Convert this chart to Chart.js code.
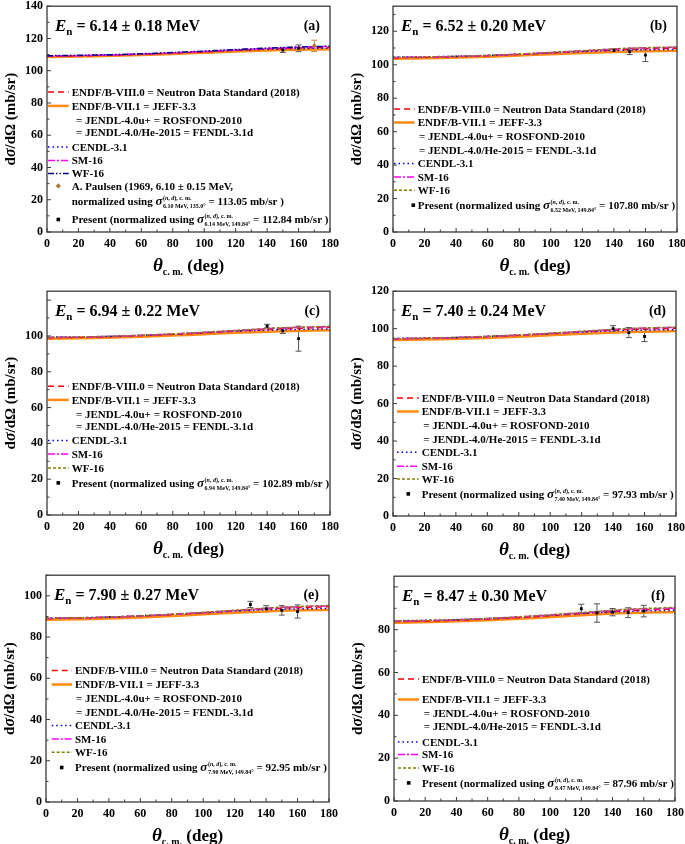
<!DOCTYPE html>
<html>
<head>
<meta charset="utf-8">
<script src="https://cdn.jsdelivr.net/npm/chart.js@4.4.0/dist/chart.umd.min.js"></script>
<style>
  body { margin: 0; background: #fff; width: 685px; height: 844px; position: relative; overflow: hidden; }
  canvas { position: absolute; }
</style>
</head>
<body>
<script>
// model curves are given at these angles (deg, c.m.)
const angles = [0, 30, 60, 90, 120, 150, 180];

// (a) 6.14 MeV
const endf80A = [109.0, 109.4, 110.2, 111.3, 112.6, 113.8, 114.5];
const endf71A = [108.5, 108.9, 109.7, 110.8, 111.9, 112.8, 113.3];
const cendlA  = [109.2, 109.6, 110.4, 111.5, 112.7, 113.6, 114.0];
const sm16A   = [109.1, 109.5, 110.3, 111.5, 112.9, 114.2, 115.0];
const wf16A   = [109.3, 109.7, 110.5, 111.7, 113.1, 114.4, 115.2];
const presAngA = [150, 160];
const presA    = [112.84, 113.9];
const presErrA = [1.5, 2.1];
const paulsenAng = [170];
const paulsen    = [115.4];
const paulsenErr = [3.5];

// (b) 6.52 MeV
const endf80B = [104.2, 104.6, 105.4, 106.6, 108.0, 109.2, 109.9];
const endf71B = [103.6, 104.0, 104.8, 105.9, 107.0, 107.9, 108.4];
const cendlB  = [104.6, 104.9, 105.6, 106.7, 107.9, 108.8, 109.2];
const sm16B   = [104.3, 104.7, 105.5, 106.8, 108.3, 109.8, 110.5];
const wf16B   = [104.4, 104.8, 105.6, 106.9, 108.4, 109.9, 110.6];
const presAngB = [140, 150, 160];
const presB    = [108.5, 107.80, 105.8];
const presErrB = [1.0, 1.7, 3.9];

// (c) 6.94 MeV
const endf80C = [99.0, 99.4, 100.2, 101.3, 102.7, 104.0, 104.8];
const endf71C = [98.4, 98.8, 99.5, 100.6, 101.8, 102.7, 103.2];
const cendlC  = [99.3, 99.6, 100.4, 101.5, 102.7, 103.5, 103.9];
const sm16C   = [99.1, 99.5, 100.3, 101.5, 103.0, 104.5, 105.2];
const wf16C   = [99.2, 99.6, 100.4, 101.6, 103.1, 104.6, 105.4];
const presAngC = [140, 150, 160];
const presC    = [105.5, 102.89, 98.5];
const presErrC = [1.0, 1.5, 7.0];

// (d) 7.40 MeV
const endf80D = [94.6, 95.0, 95.8, 96.9, 98.3, 99.5, 100.2];
const endf71D = [93.9, 94.3, 95.0, 96.1, 97.3, 98.2, 98.7];
const cendlD  = [94.8, 95.1, 95.9, 97.0, 98.2, 99.1, 99.5];
const sm16D   = [94.6, 95.0, 95.8, 97.0, 98.5, 100.0, 100.7];
const wf16D   = [94.7, 95.1, 95.9, 97.1, 98.6, 100.1, 100.8];
const presAngD = [140, 150, 160];
const presD    = [100.0, 97.93, 95.8];
const presErrD = [1.6, 2.7, 2.7];

// (e) 7.90 MeV
const endf80E = [89.0, 89.4, 90.2, 91.3, 92.7, 94.0, 94.7];
const endf71E = [88.4, 88.8, 89.5, 90.6, 91.8, 92.8, 93.3];
const cendlE  = [89.2, 89.5, 90.3, 91.4, 92.6, 93.5, 93.9];
const sm16E   = [89.0, 89.4, 90.2, 91.4, 92.9, 94.4, 95.1];
const wf16E   = [89.1, 89.5, 90.3, 91.5, 93.0, 94.5, 95.3];
const presAngE = [130, 140, 150, 160];
const presE    = [95.8, 93.7, 92.95, 92.4];
const presErrE = [1.5, 1.5, 2.3, 3.2];

// (f) 8.47 MeV
const endf80F = [83.8, 84.2, 85.0, 86.1, 87.5, 88.9, 89.7];
const endf71F = [83.3, 83.7, 84.4, 85.5, 86.8, 87.8, 88.3];
const cendlF  = [84.2, 84.5, 85.2, 86.3, 87.6, 88.6, 89.1];
const sm16F   = [84.0, 84.4, 85.2, 86.4, 87.9, 89.4, 90.1];
const wf16F   = [84.1, 84.5, 85.3, 86.5, 88.0, 89.6, 90.4];
const presAngF = [120, 130, 140, 150, 160];
const presF    = [89.8, 87.8, 88.2, 87.96, 88.7];
const presErrF = [2.1, 4.3, 1.7, 2.3, 2.7];

const xTicks = [0, 20, 40, 60, 80, 100, 120, 140, 160, 180];

const styles = {
    endf80: { borderColor: '#ff0000', borderWidth: 1.5, borderDash: [6, 4] },
    endf71: { borderColor: '#ff8a10', borderWidth: 2.5, borderDash: [] },
    cendl:  { borderColor: '#0000ff', borderWidth: 1.5, borderDash: [1.5, 3] },
    sm16:   { borderColor: '#ff00ff', borderWidth: 1.5, borderDash: [7, 2, 2, 2] },
    wfNavy: { borderColor: '#000080', borderWidth: 1.5, borderDash: [6, 2, 1.5, 2, 1.5, 2] },
    wfOlive:{ borderColor: '#808000', borderWidth: 1.5, borderDash: [3, 2] }
};

const panels = [
    { tag: '(a)', energy: '6.14 ± 0.18', yMax: 140, box: [47, 330, 5, 232], wf: 'wfNavy',
      curves: [endf80A, endf71A, cendlA, sm16A, wf16A], pres: [presAngA, presA, presErrA],
      norm: ['6.14 MeV, 149.84°', '112.84'], paulsen: true,
      leg: { text: 24.7, indent: 29, sym: 11.3, from: 1, rows: [85.7, 99.7, 114, 126.3, 140.7, 154.3, 167.3, 179.7, 195, 213.3] } },
    { tag: '(b)', energy: '6.52 ± 0.20', yMax: 135, box: [393, 677, 5, 232], wf: 'wfOlive',
      curves: [endf80B, endf71B, cendlB, sm16B, wf16B], pres: [presAngB, presB, presErrB],
      norm: ['6.52 MeV, 149.84°', '107.80'],
      leg: { text: 24.7, indent: 26, sym: 20.3, from: 1, rows: [102.7, 116.3, 130.3, 143.7, 157.3, 170.7, 184, 199] } },
    { tag: '(c)', energy: '6.94 ± 0.22', yMax: 125, box: [47, 330, 290, 515], wf: 'wfOlive',
      curves: [endf80C, endf71C, cendlC, sm16C, wf16C], pres: [presAngC, presC, presErrC],
      norm: ['6.94 MeV, 149.84°', '102.89'],
      leg: { text: 24.7, indent: 29, sym: 11.3, from: 1, rows: [95, 108.7, 122.7, 135.3, 149.3, 162.7, 176.7, 191.7] } },
    { tag: '(d)', energy: '7.40 ± 0.24', yMax: 120, box: [393, 676, 290, 516], wf: 'wfOlive',
      curves: [endf80D, endf71D, cendlD, sm16D, wf16D], pres: [presAngD, presD, presErrD],
      norm: ['7.40 MeV, 149.84°', '97.93'],
      leg: { text: 28.7, indent: 30.3, sym: 15.3, from: 4, rows: [106.7, 120.3, 134.3, 147.7, 161, 175, 187.7, 202.7] } },
    { tag: '(e)', energy: '7.90 ± 0.27', yMax: 110, box: [46, 329, 574, 802], wf: 'wfOlive',
      curves: [endf80E, endf71E, cendlE, sm16E, wf16E], pres: [presAngE, presE, presErrE],
      norm: ['7.90 MeV, 149.84°', '92.95'],
      leg: { text: 29, indent: 30, sym: 15.7, from: 5.7, rows: [95.3, 109.3, 122.7, 136.7, 150.3, 163.7, 177, 192.3] } },
    { tag: '(f)', energy: '8.47 ± 0.30', yMax: 105, box: [394, 675, 575, 801], wf: 'wfOlive',
      curves: [endf80F, endf71F, cendlF, sm16F, wf16F], pres: [presAngF, presF, presErrF],
      norm: ['8.47 MeV, 149.84°', '87.96'],
      leg: { text: 28, indent: 29.7, sym: 14.7, from: 4, rows: [102.7, 123.3, 136.7, 150, 165.7, 178.3, 191.7, 206.7] } }
];

const legendText = [
    ['ENDF/B-VIII.0 = Neutron Data Standard (2018)', 'endf80'],
    ['ENDF/B-VII.1 = JEFF-3.3', 'endf71'],
    ['= JENDL-4.0u+ = ROSFOND-2010', null],
    ['= JENDL-4.0/He-2015 = FENDL-3.1d', null],
    ['CENDL-3.1', 'cendl'],
    ['SM-16', 'sm16'],
    ['WF-16', 'wf']
];

const F = (size, italic) => (italic ? 'italic ' : '') + 'bold ' + size + 'px "Liberation Serif"';

function rich(ctx, x, y, parts) {
    for (const [t, font, dy] of parts) {
        ctx.font = font;
        ctx.fillText(t, x, y + (dy || 0));
        x += ctx.measureText(t).width;
    }
    return x;
}

// "... σ^(n, d), c. m._sub = value mb/sr )"
function sigmaRow(ctx, x, y, lead, sub, value) {
    x = rich(ctx, x, y, [[lead, F(11)], ['σ', F(13, true)]]) + 0.5;
    const e1 = rich(ctx, x, y - 5, [['(', F(6)], ['n', F(6, true)], [', ', F(6)], ['d', F(6, true)], ['), c. m.', F(6)]]);
    const e2 = rich(ctx, x, y + 3, [[sub, F(6)]]);
    rich(ctx, Math.max(e1, e2), y, [[' = ' + value + ' mb/sr )', F(11)]]);
}

function sample(ctx, x0, x1, y, st) {
    ctx.save();
    ctx.strokeStyle = st.borderColor;
    ctx.lineWidth = st.borderWidth;
    ctx.setLineDash(st.borderDash);
    ctx.beginPath();
    ctx.moveTo(x0, y);
    ctx.lineTo(x1, y);
    ctx.stroke();
    ctx.restore();
}

function drawSymbol(ctx, style, color, x, y) {
    ctx.save();
    ctx.fillStyle = color;
    ctx.beginPath();
    if (style === 'rect') ctx.rect(x - 1.8, y - 1.8, 3.6, 3.6);
    else { ctx.moveTo(x, y - 2.6); ctx.lineTo(x + 2.6, y); ctx.lineTo(x, y + 2.6); ctx.lineTo(x - 2.6, y); ctx.closePath(); }
    ctx.fill();
    ctx.restore();
}

const errorBars = {
    id: 'errorBars',
    beforeDatasetsDraw(chart) {
        const { ctx, scales: { x, y } } = chart;
        chart.data.datasets.forEach(ds => {
            if (!ds.errors) return;
            ctx.save();
            ctx.strokeStyle = ds.barColor;
            ctx.lineWidth = 1;
            ds.data.forEach((p, i) => {
                const px = x.getPixelForValue(p.x);
                const lo = y.getPixelForValue(p.y - ds.errors[i]);
                const hi = y.getPixelForValue(p.y + ds.errors[i]);
                ctx.beginPath();
                ctx.moveTo(px, lo); ctx.lineTo(px, hi);
                ctx.moveTo(px - 3, lo); ctx.lineTo(px + 3, lo);
                ctx.moveTo(px - 3, hi); ctx.lineTo(px + 3, hi);
                ctx.stroke();
            });
            ctx.restore();
        });
    }
};

function decor(p) {
    return {
        id: 'decor',
        afterDraw(chart) {
            const { ctx, chartArea: a, scales: { x, y } } = chart;
            ctx.save();
            // frame and inward ticks
            ctx.strokeStyle = '#3a3a3a';
            ctx.lineWidth = 1.3;
            ctx.strokeRect(a.left, a.top, a.right - a.left, a.bottom - a.top);
            ctx.lineWidth = 1;
            ctx.beginPath();
            for (let v = 0; v <= 180; v += 10) {
                const px = x.getPixelForValue(v), len = v % 20 === 0 ? 4 : 2.5;
                ctx.moveTo(px, a.bottom); ctx.lineTo(px, a.bottom - len);
            }
            for (let v = 0; v <= p.yMax; v += 10) {
                const py = y.getPixelForValue(v), len = v % 20 === 0 ? 4 : 2.5;
                ctx.moveTo(a.left, py); ctx.lineTo(a.left + len, py);
            }
            ctx.stroke();

            ctx.fillStyle = '#000';
            ctx.textBaseline = 'alphabetic';

            // x title
            ctx.font = F(19, true); const w1 = ctx.measureText('θ').width;
            ctx.font = F(10); const w2 = ctx.measureText('c. m.').width;
            ctx.font = F(17); const w3 = ctx.measureText(' (deg)').width;
            const cx = (a.left + a.right) / 2 - (w1 + w2 + w3) / 2;
            rich(ctx, cx, a.bottom + 39, [['θ', F(19, true)], ['c. m.', F(10), 4], [' (deg)', F(17)]]);

            // y title
            ctx.save();
            ctx.translate(a.left - 32, (a.top + a.bottom) / 2);
            ctx.rotate(-Math.PI / 2);
            const yParts = [['d', F(15)], ['σ', F(16, true)], ['/dΩ (mb/sr)', F(15)]];
            let wy = 0;
            yParts.forEach(([t, f]) => { ctx.font = f; wy += ctx.measureText(t).width; });
            rich(ctx, -wy / 2, 0, yParts);
            ctx.restore();

            // energy label and panel tag
            rich(ctx, a.left + 8, a.top + 25, [['E', F(17, true)], ['n', F(11), 4], [' = ' + p.energy + ' MeV', F(16)]]);
            ctx.font = F(14);
            ctx.textAlign = 'right';
            ctx.fillText(p.tag, a.right - 10, a.top + 24);
            ctx.textAlign = 'left';

            // legend
            const lg = p.leg, L = a.left, T = a.top;
            const tx = L + lg.text;
            legendText.forEach(([text, key], i) => {
                const yc = T + lg.rows[i];
                if (key) sample(ctx, L + lg.from, tx - 3, yc, styles[key === 'wf' ? p.wf : key]);
                ctx.font = F(11);
                ctx.fillText(text, key ? tx : L + lg.indent, yc + 3.8);
            });
            let r = legendText.length;
            if (p.paulsen) {
                const yc = T + lg.rows[r];
                drawSymbol(ctx, 'rectRot', '#b5752f', L + lg.sym, yc);
                ctx.font = F(11);
                ctx.fillText('A. Paulsen (1969, 6.10 ± 0.15 MeV,', tx, yc + 3.8);
                sigmaRow(ctx, tx, T + lg.rows[r + 1] + 3.8, 'normalized using ', '6.10 MeV, 135.0°', '113.05');
                r += 2;
            }
            const yc = T + lg.rows[r];
            drawSymbol(ctx, 'rect', '#000', L + lg.sym, yc);
            sigmaRow(ctx, tx, yc + 3.8, 'Present (normalized using ', p.norm[0], p.norm[1]);
            ctx.restore();
        }
    };
}

const tickFont = { family: 'Liberation Serif', size: 12, weight: 'bold' };

panels.forEach(p => {
    const [L, R, T, B] = p.box;
    const cv = document.createElement('canvas');
    cv.width = R - L + 62;
    cv.height = B - T + 62;
    cv.style.left = (L - 48) + 'px';
    cv.style.top = (T - 10) + 'px';
    document.body.appendChild(cv);

    const keys = ['endf80', 'endf71', 'cendl', 'sm16', p.wf];
    const lines = keys.map((k, i) => Object.assign({
        data: angles.map((a, j) => ({ x: a, y: p.curves[i][j] })),
        pointRadius: 0, fill: false, cubicInterpolationMode: 'monotone'
    }, styles[k]));
    // drawing order: first dataset ends on top
    const datasets = [{
        data: p.pres[0].map((a, j) => ({ x: a, y: p.pres[1][j] })),
        errors: p.pres[2], barColor: '#555',
        showLine: false, pointStyle: 'rect', pointRadius: 2,
        backgroundColor: '#000', borderColor: '#000', borderWidth: 0
    }];
    if (p.paulsen) datasets.push({
        data: paulsenAng.map((a, j) => ({ x: a, y: paulsen[j] })),
        errors: paulsenErr, barColor: '#c08a4a',
        showLine: false, pointStyle: 'rectRot', pointRadius: 2.6,
        backgroundColor: '#b5752f', borderColor: '#b5752f', borderWidth: 0
    });
    datasets.push(lines[4], lines[3], lines[2], lines[0], lines[1]);

    new Chart(cv, {
        type: 'line',
        data: { datasets },
        options: {
            responsive: false,
            animation: false,
            devicePixelRatio: 1,
            layout: { padding: { top: 10, right: 14, left: 0, bottom: 0 } },
            plugins: { legend: { display: false }, tooltip: { enabled: false } },
            scales: {
                x: {
                    type: 'linear', min: 0, max: 180,
                    afterBuildTicks: s => { s.ticks = xTicks.map(v => ({ value: v })); },
                    ticks: { font: tickFont, color: '#000', padding: 5, maxRotation: 0, autoSkip: false },
                    grid: { display: false, drawTicks: false },
                    border: { display: false },
                    afterFit: s => { s.height = 52; }
                },
                y: {
                    type: 'linear', min: 0, max: p.yMax,
                    ticks: { stepSize: 20, font: tickFont, color: '#000', padding: 4 },
                    afterBuildTicks: s => { s.ticks = s.ticks.filter(t => t.value % 20 === 0); },
                    grid: { display: false, drawTicks: false },
                    border: { display: false },
                    afterFit: s => { s.width = 48; }
                }
            }
        },
        plugins: [errorBars, decor(p)]
    });
});
</script>
</body>
</html>
